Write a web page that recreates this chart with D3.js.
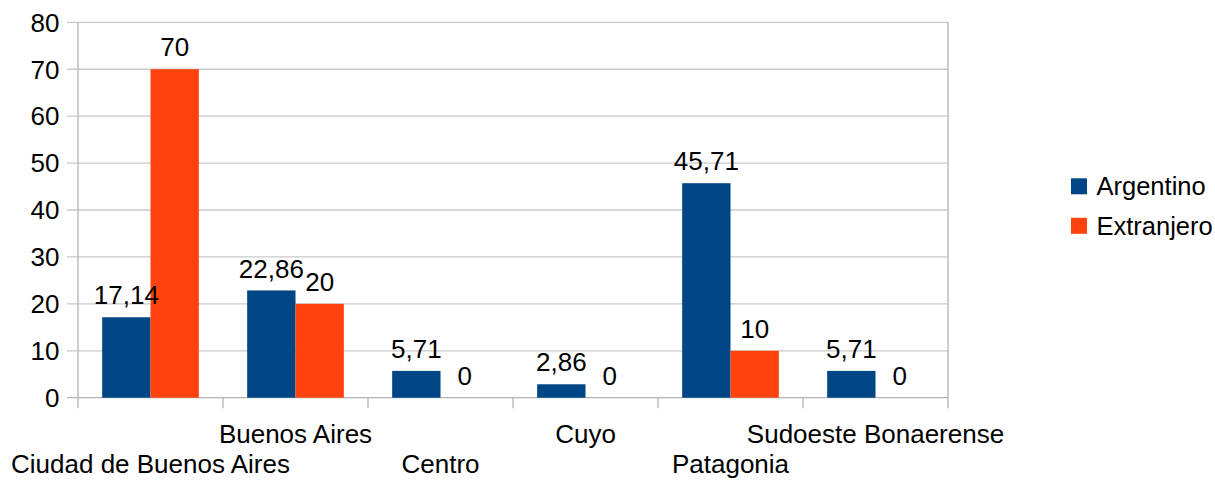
<!DOCTYPE html>
<html><head><meta charset="utf-8">
<script src="https://cdn.jsdelivr.net/npm/d3@7"></script>
<style>body{margin:0;background:#fff}svg{display:block}text{font-family:"Liberation Sans",Arial,sans-serif;fill:#000}</style>
</head><body><svg id="c" width="1215" height="480"></svg>
<script>
const categories = ["Ciudad de Buenos Aires","Buenos Aires","Centro","Cuyo","Patagonia","Sudoeste Bonaerense"];
const seriesNames = ["Argentino","Extranjero"];
const argentino = [17.14,22.86,5.71,2.86,45.71,5.71];
const extranjero = [70,20,0,0,10,0];
const yTicks = [0,10,20,30,40,50,60,70,80];
const colors = ["#004586","#ff420e"];

const svg = d3.select("#c");
const m = {l:78, r:948, t:22.3, b:397.7};
const FS = 26;
const x = d3.scaleBand().domain(categories).range([m.l,m.r]).paddingInner(1/3).paddingOuter(1/6);
const xs = d3.scaleBand().domain(seriesNames).range([0,x.bandwidth()]);
const y = d3.scaleLinear().domain([0,80]).range([m.b,m.t]);
const fmt = v => String(v).replace(".",",");

// gridlines
svg.append("g").selectAll("line").data(yTicks).join("line")
  .attr("x1",m.l-11).attr("x2",m.r).attr("y1",d=>y(d)).attr("y2",d=>y(d))
  .attr("stroke",d=>d===0?"#b3b3b3":"#c8c8c8").attr("stroke-width",1.3);
// y labels
svg.append("g").selectAll("text").data(yTicks).join("text")
  .attr("x",59.5).attr("y",d=>y(d)+9.3).attr("text-anchor","end").attr("font-size",FS).text(d=>d);
// axis lines
const step = x.step();
const bounds = d3.range(categories.length+1).map(i=>m.l+i*step);
svg.append("g").selectAll("line").data(bounds).join("line")
  .attr("x1",d=>d).attr("x2",d=>d)
  .attr("y1",(d,i)=>(i===0||i===categories.length)?m.t:m.b).attr("y2",m.b+10.5)
  .attr("stroke","#b3b3b3").attr("stroke-width",1.3);

const data = categories.map((c,i)=>({c, vals:[argentino[i],extranjero[i]]}));
const g = svg.append("g").selectAll("g").data(data).join("g").attr("transform",d=>`translate(${x(d.c)},0)`);
g.selectAll("rect").data(d=>d.vals.map((v,j)=>({v,s:seriesNames[j],j}))).join("rect")
  .attr("x",d=>xs(d.s)).attr("width",xs.bandwidth())
  .attr("y",d=>y(d.v)).attr("height",d=>y(0)-y(d.v)).attr("fill",d=>colors[d.j]);
g.selectAll("text").data(d=>d.vals.map((v,j)=>({v,s:seriesNames[j],j}))).join("text")
  .attr("x",d=>xs(d.s)+xs.bandwidth()/2).attr("y",d=>y(d.v)-12.8)
  .attr("text-anchor","middle").attr("font-size",FS).text(d=>fmt(d.v));

// category labels, staggered
svg.append("g").selectAll("text").data(categories).join("text")
  .attr("x",d=>x(d)+x.bandwidth()/2).attr("y",(d,i)=>i%2===1?442.5:473.3)
  .attr("text-anchor","middle").attr("font-size",FS).text(d=>d);

// legend
const lg = svg.append("g").selectAll("g").data(seriesNames).join("g")
  .attr("transform",(d,i)=>`translate(1071,${178.3+i*39.5})`);
lg.append("rect").attr("width",16).attr("height",16).attr("fill",(d,i)=>colors[i]);
lg.append("text").attr("x",25.5).attr("y",16.8).attr("font-size",25.5).text(d=>d);
</script></body></html>
